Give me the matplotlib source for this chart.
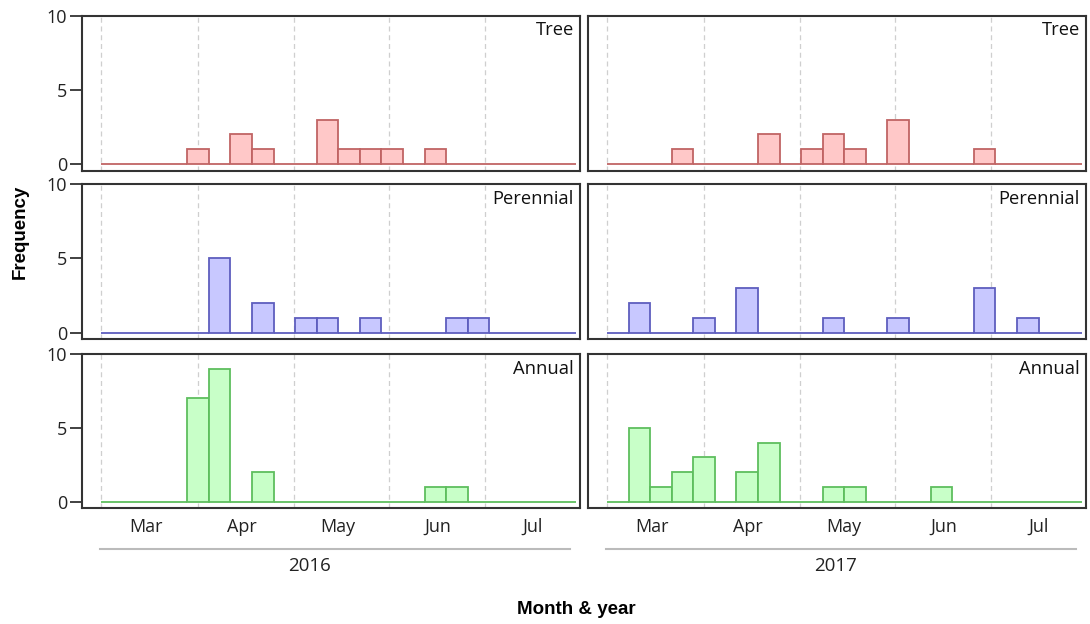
import numpy as np
import matplotlib
matplotlib.use("Agg")
import matplotlib.pyplot as plt
import matplotlib.transforms as mtransforms

# ---------------- data (weekly bins from 1 March, 22 bins per season) ----------------
years = ["2016", "2017"]
groups = ["Tree", "Perennial", "Annual"]
months = ["Mar", "Apr", "May", "Jun", "Jul"]
n_bins = 22

tree_2016 = [0, 0, 0, 0, 1, 0, 2, 1, 0, 0, 3, 1, 1, 1, 0, 1, 0, 0, 0, 0, 0, 0]
tree_2017 = [0, 0, 0, 1, 0, 0, 0, 2, 0, 1, 2, 1, 0, 3, 0, 0, 0, 1, 0, 0, 0, 0]
perennial_2016 = [0, 0, 0, 0, 0, 5, 0, 2, 0, 1, 1, 0, 1, 0, 0, 0, 1, 1, 0, 0, 0, 0]
perennial_2017 = [0, 2, 0, 0, 1, 0, 3, 0, 0, 0, 1, 0, 0, 1, 0, 0, 0, 3, 0, 1, 0, 0]
annual_2016 = [0, 0, 0, 0, 7, 9, 0, 2, 0, 0, 0, 0, 0, 0, 0, 1, 1, 0, 0, 0, 0, 0]
annual_2017 = [0, 5, 1, 2, 3, 0, 2, 4, 0, 0, 1, 1, 0, 0, 0, 1, 0, 0, 0, 0, 0, 0]

counts = {
    ("Tree", "2016"): tree_2016, ("Tree", "2017"): tree_2017,
    ("Perennial", "2016"): perennial_2016, ("Perennial", "2017"): perennial_2017,
    ("Annual", "2016"): annual_2016, ("Annual", "2017"): annual_2017,
}

# ---------------- style ----------------
fill = {"Tree": "#FFC8C8", "Perennial": "#C8C8FF", "Annual": "#C8FFC8"}
edge = {"Tree": "#C06464", "Perennial": "#5E5EBE", "Annual": "#5EBE5E"}
month_edges = [0, 4.48, 8.94, 13.35, 17.78]      # month boundaries in bin units
month_centers = [2.1, 6.55, 11.0, 15.6, 20.0]   # month label positions
year_label_x = {"2016": 9.65, "2017": 10.6}

TXT = ["Open Sans", "DejaVu Sans"]
BOLD = ["Liberation Sans", "DejaVu Sans"]
frame_col = "#333333"

W, H = 1090, 624
fig = plt.figure(figsize=(W / 100, H / 100), dpi=100)
fig.patch.set_facecolor("white")

col_x = [(81.5, 580.0), (587.5, 1086.0)]
row_y = [(15.7, 170.7), (184.3, 339.3), (354.0, 508.3)]

for r, g in enumerate(groups):
    for c, yr in enumerate(years):
        x0, x1 = col_x[c]
        yt, yb = row_y[r]
        ax = fig.add_axes([x0 / W, 1 - yb / H, (x1 - x0) / W, (yb - yt) / H])
        ax.set_xlim(-0.9, 22.2)
        ax.set_ylim(-0.45, 10.0)
        for m in month_edges:
            ax.axvline(m, color="#CFCFCF", lw=0.9, ls=(0, (4, 3)), zorder=0)
        vals = counts[(g, yr)]
        ax.bar(np.arange(n_bins), vals, width=1.0, align="edge",
               color=fill[g], edgecolor=edge[g], linewidth=1.3, zorder=2)
        for sp in ax.spines.values():
            sp.set_color(frame_col)
            sp.set_linewidth(1.5)
        ax.text(0.988, 0.905, g, transform=ax.transAxes, ha="right", va="center",
                fontsize=13.2, family=TXT, color="#111111")
        if c == 0:
            ax.set_yticks([0, 5, 10])
            ax.tick_params(axis="y", direction="out", length=9, width=1.3,
                           color=frame_col, pad=1.5, labelsize=13, labelcolor="#222222")
            for lab in ax.get_yticklabels():
                lab.set_family(TXT)
        else:
            ax.set_yticks([])
        if r == 2:
            ax.set_xticks(month_centers)
            ax.set_xticklabels(months)
            ax.tick_params(axis="x", length=0, pad=7, labelsize=13, labelcolor="#222222")
            for lab in ax.get_xticklabels():
                lab.set_family(TXT)
            tr = mtransforms.blended_transform_factory(ax.transData, ax.transAxes)
            ax.plot([-0.04, 21.74], [-0.264, -0.264], transform=tr, color="#BBBBBB",
                    lw=1.5, clip_on=False)
            ax.text(year_label_x[yr], -0.372, yr, transform=tr, ha="center", va="center",
                    fontsize=13.5, family=TXT, color="#222222")
        else:
            ax.set_xticks([])

fig.text(20 / W, 1 - 232 / H, "Frequency", rotation=90, ha="center", va="center",
         fontsize=13.5, fontweight="bold", family=BOLD)
fig.text(576 / W, 1 - 609 / H, "Month & year", ha="center", va="center",
         fontsize=13.5, fontweight="bold", family=BOLD)

fig.savefig("out.png", dpi=100)
